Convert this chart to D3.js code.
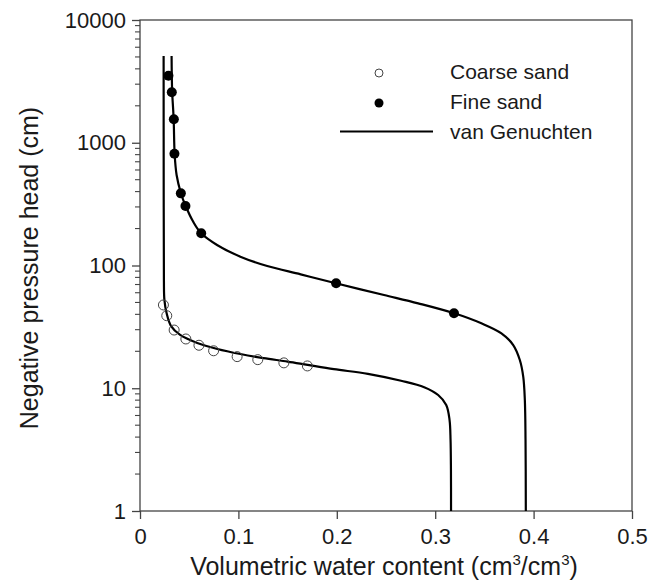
<!DOCTYPE html>
<html><head><meta charset="utf-8">
<script src="https://cdn.jsdelivr.net/npm/d3@7"></script>
<style>
body{margin:0;background:#fff;}
svg text{font-family:"Liberation Sans",Arial,sans-serif;fill:#1a1a1a;}
</style></head>
<body><svg id="c" width="656" height="582"></svg>
<script>
// Measured data (θ, h)
const coarseTheta = [0.0238,0.0272,0.0347,0.0466,0.0599,0.0748,0.0987,0.1197,0.1462,0.1701];
const coarseHead  = [47.7,39,29.8,25.2,22.4,20.2,18.1,17.1,16.1,15.2];
const fineTheta = [0.0289,0.0323,0.0344,0.0350,0.0415,0.0462,0.0622,0.1993,0.3191];
const fineHead  = [3518,2576,1553,814,387,305,183,71.6,40.8];
// van Genuchten curves
const vgCoarseTheta = [0.0240,0.0241,0.0243,0.0248,0.0270,0.0316,0.0408,0.0582,0.0786,0.102,0.1255,0.150,0.1704,0.197,0.2316,0.2653,0.2888,0.303,0.3112,0.3146,0.3156,0.316,0.3161];
const vgCoarseHead  = [5090,342,76,52.4,41.0,32.1,27.2,23.4,20.9,19.0,17.6,16.5,15.5,14.3,13.1,11.5,10.2,8.81,7.31,5.51,3.79,2.16,1];
const vgFineTheta = [0.0321,0.0323,0.0327,0.0342,0.0352,0.0372,0.0415,0.0464,0.0541,0.0622,0.0783,0.102,0.1293,0.1633,0.199,0.248,0.2827,0.3194,0.3469,0.3673,0.3793,0.386,0.3895,0.3911,0.3918,0.3921];
const vgFineHead  = [5090,3565,2590,1561,810,546,390,305,227,183,147,118,99,84.7,71.6,57.5,49.2,40.8,33.8,28.0,22.5,17.0,12.4,8.02,3.79,1];
const xTicks = [0,0.1,0.2,0.3,0.4,0.5];
const yTicks = [1,10,100,1000,10000];
const legendLabels = ["Coarse sand","Fine sand","van Genuchten"];

const svg = d3.select("#c");
const L=140,R=632,T=20,B=511;
const x = d3.scaleLinear().domain([0,0.5]).range([L,R]);
const y = d3.scaleLog().domain([1,10000]).range([B,T]);
const frameColor="#444";

// frame
svg.append("rect").attr("x",L).attr("y",T).attr("width",R-L).attr("height",B-T)
  .attr("fill","none").attr("stroke",frameColor).attr("stroke-width",1.3);

// x axis
const xa = svg.append("g").attr("transform",`translate(0,${B})`)
  .call(d3.axisBottom(x).tickValues(xTicks).tickSize(8).tickPadding(9).tickFormat(d=>d===0?"0":d3.format(".1f")(d)));
xa.select(".domain").remove();
xa.selectAll("line").attr("stroke",frameColor).attr("stroke-width",1.3);
xa.selectAll("text").attr("font-size",22).attr("fill","#1a1a1a");

// y axis major
const ya = svg.append("g").attr("transform",`translate(${L},0)`)
  .call(d3.axisLeft(y).tickValues(yTicks).tickSize(8).tickPadding(6).tickFormat(d3.format("d")));
ya.select(".domain").remove();
ya.selectAll("line").attr("stroke",frameColor).attr("stroke-width",1.3);
ya.selectAll("text").attr("font-size",22).attr("fill","#1a1a1a");
// minor ticks
const minor=[];
for(let e=0;e<4;e++) for(let k=2;k<=9;k++) minor.push(k*Math.pow(10,e));
svg.append("g").selectAll("line").data(minor).join("line")
  .attr("x1",L-5).attr("x2",L).attr("y1",d=>y(d)).attr("y2",d=>y(d))
  .attr("stroke",frameColor).attr("stroke-width",1.1);

// curves
const line = d3.line().x(d=>x(d[0])).y(d=>y(d[1])).curve(d3.curveCatmullRom.alpha(0.5));
[[vgCoarseTheta,vgCoarseHead],[vgFineTheta,vgFineHead]].forEach(([t,h])=>{
  svg.append("path").datum(t.map((v,i)=>[v,h[i]])).attr("d",line)
    .attr("fill","none").attr("stroke","#000").attr("stroke-width",2.2);
});

// points
svg.append("g").selectAll("circle").data(coarseTheta.map((v,i)=>[v,coarseHead[i]])).join("circle")
  .attr("cx",d=>x(d[0])).attr("cy",d=>y(d[1])).attr("r",5)
  .attr("fill","none").attr("stroke","#444").attr("stroke-width",1);
svg.append("g").selectAll("circle").data(fineTheta.map((v,i)=>[v,fineHead[i]])).join("circle")
  .attr("cx",d=>x(d[0])).attr("cy",d=>y(d[1])).attr("r",5)
  .attr("fill","#000");

// legend
const lg = svg.append("g");
lg.append("circle").attr("cx",379).attr("cy",73).attr("r",4).attr("fill","none").attr("stroke","#444").attr("stroke-width",1);
lg.append("circle").attr("cx",379).attr("cy",103).attr("r",4.5).attr("fill","#000");
lg.append("line").attr("x1",340).attr("x2",433).attr("y1",131.5).attr("y2",131.5).attr("stroke","#000").attr("stroke-width",2.2);
legendLabels.forEach((s,i)=>{
  lg.append("text").attr("x",450).attr("y",72+i*30).attr("dy","0.35em").attr("font-size",21).text(s);
});

// axis titles
svg.append("text").attr("transform","translate(29,268) rotate(-90)").attr("text-anchor","middle")
  .attr("dy","0.35em").attr("font-size",25).text("Negative pressure head (cm)");
const xt = svg.append("text").attr("x",384).attr("y",575).attr("text-anchor","middle").attr("font-size",25);
xt.append("tspan").text("Volumetric water content (cm");
xt.append("tspan").attr("font-size",15).attr("dy",-10).text("3");
xt.append("tspan").attr("dy",10).text("/cm");
xt.append("tspan").attr("font-size",15).attr("dy",-10).text("3");
xt.append("tspan").attr("dy",10).text(")");
</script></body></html>
